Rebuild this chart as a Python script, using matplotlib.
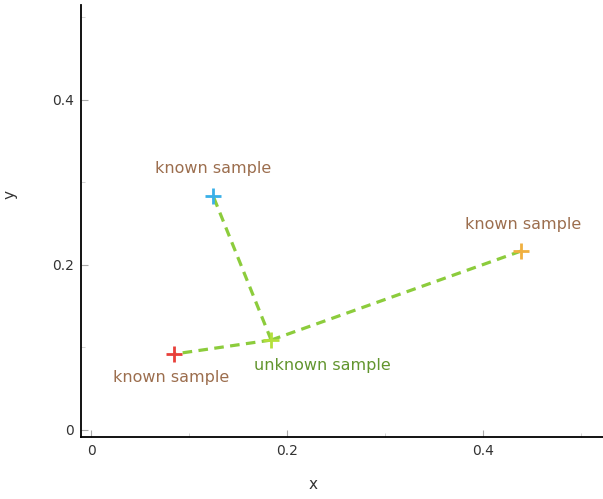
import numpy as np
import matplotlib.pyplot as plt

# sample coordinates
known_x = [0.0847, 0.1245, 0.4388]
known_y = [0.092, 0.2836, 0.217]
known_colors = ['#e8403a', '#3ab0e8', '#f0b040']
unknown_x = 0.1837
unknown_y = 0.109
labels_known = ['known sample', 'known sample', 'known sample']
label_unknown = 'unknown sample'

brown = '#9c6e4e'
green_txt = '#62952e'
green_line = '#8ccc3c'

fig = plt.figure(figsize=(6.03, 4.99), dpi=100)
ax = fig.add_axes([81/603, 1-437/499, 1-81/603, (437-5)/499])

# dashed links from the unknown sample to each known one
for xk, yk in zip(known_x, known_y):
	ax.plot([unknown_x, xk], [unknown_y, yk], color=green_line, lw=2.3,
		dashes=(3.0, 2.0), zorder=1)

for xk, yk, c in zip(known_x, known_y, known_colors):
	ax.plot(xk, yk, marker='+', color=c, ms=11, mew=2, ls='none', zorder=3)
ax.plot(unknown_x, unknown_y, marker='+', color='#b4e03c', ms=11, mew=2, ls='none', zorder=3)

# text offsets in points
offs = [(-2, -17), (0, 20), (1, 19)]
for xk, yk, lab, o in zip(known_x, known_y, labels_known, offs):
	ax.annotate(lab, (xk, yk), xytext=o, textcoords='offset points',
		ha='center', va='center', fontsize=11.5, color=brown)
ax.annotate(label_unknown, (unknown_x, unknown_y), xytext=(37, -18), textcoords='offset points',
	ha='center', va='center', fontsize=11.5, color=green_txt)

ax.set_xlim(-0.0102, 0.522)
ax.set_ylim(-0.0085, 0.515)
ax.set_xticks([0, 0.2, 0.4])
ax.set_xticklabels(['0', '0.2', '0.4'])
ax.set_yticks([0, 0.2, 0.4])
ax.set_yticklabels(['0', '0.2', '0.4'])
ax.set_xticks([0.1, 0.3, 0.5], minor=True)
ax.set_yticks([0.1, 0.3, 0.5], minor=True)
ax.tick_params(which='major', direction='in', length=5, width=0.8, color='#aaaaaa',
	labelsize=10, labelcolor='#333333', pad=5)
ax.tick_params(which='minor', direction='in', length=3, width=0.6, color='#cccccc')
# the ticks at zero are drawn darker
ax.xaxis.get_major_ticks()[0].tick1line.set_color('#222222')
ax.yaxis.get_major_ticks()[0].tick1line.set_color('#222222')
ax.spines['right'].set_visible(False)
ax.spines['top'].set_visible(False)
ax.spines['left'].set_linewidth(1.3)
ax.spines['bottom'].set_linewidth(1.3)
ax.set_xlabel('x', fontsize=11, color='#333333')
ax.set_ylabel('y', fontsize=11, color='#333333')
ax.xaxis.set_label_coords((313-81)/522, -40/432)
ax.yaxis.set_label_coords(-64/522, (437-195)/432)

fig.savefig('out.png', dpi=100)
